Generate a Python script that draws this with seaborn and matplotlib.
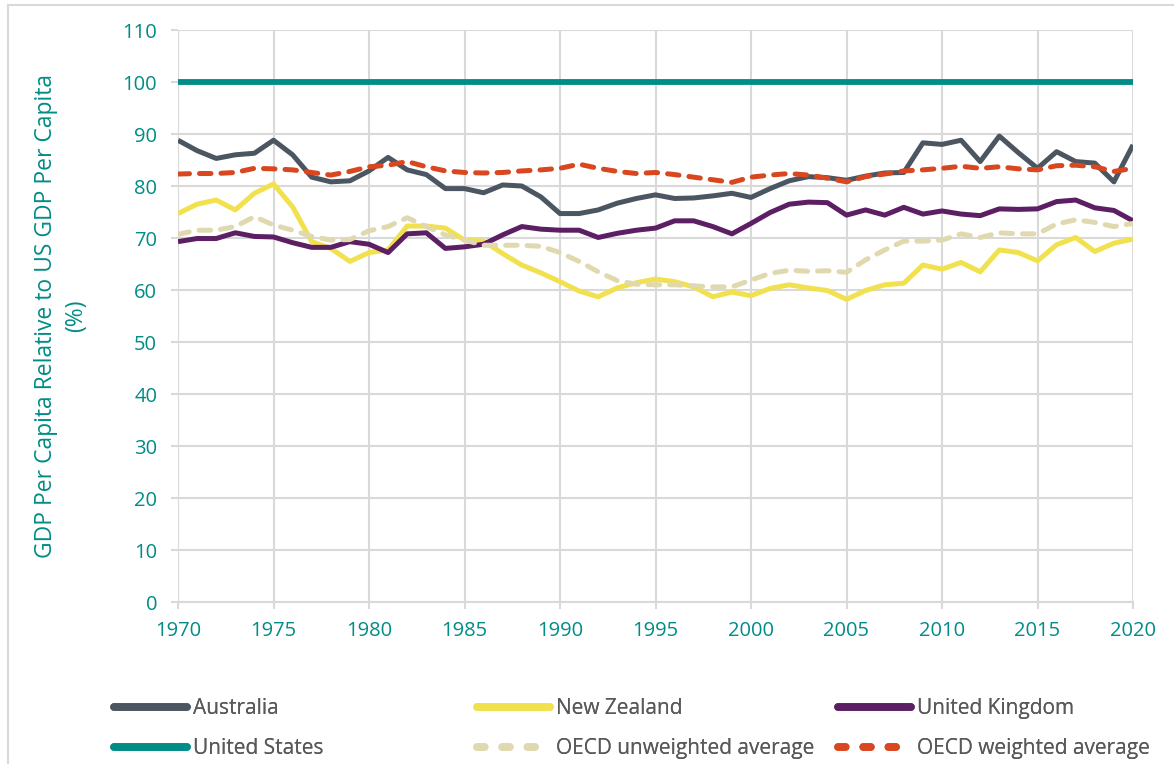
import pandas as pd
import seaborn as sns
import matplotlib.pyplot as plt
from matplotlib.lines import Line2D
from matplotlib.patches import Rectangle

years = list(range(1970, 2021))

australia = [88.8, 86.8, 85.3, 86.0, 86.3, 88.8, 86.0, 81.7, 80.8, 81.0,
             82.9, 85.5, 83.1, 82.2, 79.5, 79.5, 78.7, 80.2, 80.0, 77.9,
             74.7, 74.7, 75.4, 76.7, 77.6, 78.3, 77.6, 77.7, 78.1, 78.6,
             77.8, 79.5, 81.0, 81.8, 81.6, 81.1, 81.9, 82.5, 82.6, 88.3,
             88.0, 88.8, 84.7, 89.6, 86.4, 83.4, 86.6, 84.7, 84.4, 80.8, 87.9]
new_zealand = [74.7, 76.5, 77.3, 75.4, 78.6, 80.4, 76.0, 69.3, 68.0, 65.5,
               67.2, 67.7, 72.3, 72.3, 71.9, 69.6, 69.4, 67.0, 64.8, 63.3,
               61.6, 59.8, 58.7, 60.4, 61.4, 62.1, 61.6, 60.6, 58.7, 59.6,
               58.9, 60.3, 61.0, 60.4, 59.9, 58.2, 59.9, 61.0, 61.3, 64.8,
               64.0, 65.3, 63.5, 67.7, 67.2, 65.6, 68.7, 70.1, 67.4, 69.0, 69.8]
united_kingdom = [69.3, 69.9, 69.9, 71.0, 70.3, 70.2, 69.1, 68.2, 68.2, 69.3,
                  68.8, 67.2, 70.8, 71.0, 68.0, 68.3, 68.8, 70.6, 72.2, 71.7,
                  71.5, 71.5, 70.1, 70.9, 71.5, 71.9, 73.3, 73.3, 72.2, 70.8,
                  72.8, 74.9, 76.5, 76.9, 76.8, 74.4, 75.4, 74.4, 75.9, 74.6,
                  75.2, 74.6, 74.3, 75.6, 75.5, 75.6, 77.0, 77.3, 75.8, 75.3, 73.3]
united_states = [100.0] * len(years)
oecd_unweighted = [70.7, 71.5, 71.5, 72.2, 74.1, 72.5, 71.5, 70.3, 69.6, 69.7,
                   71.4, 72.2, 73.9, 72.2, 70.6, 69.6, 68.6, 68.6, 68.6, 68.4,
                   67.2, 65.5, 63.5, 61.8, 61.1, 61.0, 61.0, 60.8, 60.6, 60.6,
                   61.9, 63.2, 63.8, 63.6, 63.7, 63.4, 65.8, 67.7, 69.4, 69.4,
                   69.6, 70.8, 70.1, 71.0, 70.8, 70.8, 72.7, 73.5, 73.0, 72.2, 72.8]
oecd_weighted = [82.3, 82.4, 82.4, 82.6, 83.4, 83.3, 83.1, 82.6, 82.1, 82.8,
                 83.7, 84.0, 84.7, 83.7, 82.9, 82.6, 82.5, 82.6, 82.9, 83.1,
                 83.4, 84.2, 83.4, 82.8, 82.4, 82.6, 82.2, 81.7, 81.2, 80.7,
                 81.7, 82.1, 82.4, 82.1, 81.5, 80.8, 81.8, 82.3, 82.9, 83.1,
                 83.4, 83.8, 83.4, 83.7, 83.3, 83.1, 83.9, 84.0, 83.7, 82.8, 83.4]

series_names = ["Australia", "New Zealand", "United Kingdom", "United States",
                "OECD unweighted average", "OECD weighted average"]
series_values = [australia, new_zealand, united_kingdom, united_states,
                 oecd_unweighted, oecd_weighted]
colors = ["#4B5661", "#F2E14F", "#5C1F63", "#008C87", "#E0D9AF", "#D8471F"]
dashed = [False, False, False, False, True, True]

df = pd.concat([pd.DataFrame({"Year": years, "Value": v, "Series": n})
                for n, v in zip(series_names, series_values)], ignore_index=True)

teal = "#008C87"
grid_c = "#D9D9D9"

sns.set_theme(style="white")
plt.rcParams["font.family"] = ["Open Sans", "DejaVu Sans"]

fig = plt.figure(figsize=(11.74, 7.64), dpi=100)
ax = fig.add_axes([178 / 1174, 1 - 602 / 764, (1133 - 178) / 1174, (602 - 30) / 764])

sns.lineplot(data=df, x="Year", y="Value", hue="Series", style="Series",
             hue_order=series_names, style_order=series_names,
             palette=dict(zip(series_names, colors)),
             dashes={n: ((2.3, 2.0) if d else "") for n, d in zip(series_names, dashed)},
             lw=3.6, legend=False, ax=ax, zorder=3)
for ln, n in zip(ax.lines, series_names):
    ln.set_dash_capstyle("round")
    ln.set_solid_capstyle("butt")
    if n == "United States":
        ln.set_linewidth(4.2)

ax.set_xlim(1970, 2020)
ax.set_ylim(0, 110)
ax.set_xticks(range(1970, 2021, 5))
ax.set_yticks(range(0, 111, 10))
ax.grid(True, color=grid_c, lw=1.5, zorder=0)
for s in ["top", "right", "left"]:
    ax.spines[s].set_visible(False)
ax.spines["bottom"].set_color(grid_c)
ax.spines["bottom"].set_linewidth(1.5)
ax.tick_params(axis="both", which="both", length=5, width=1.5, color=grid_c,
               labelcolor=teal, labelsize=14.5, left=True, bottom=True)
ax.tick_params(axis="y", pad=10)
ax.tick_params(axis="x", pad=9)
ax.set_xlabel("")
ax.set_ylabel("GDP Per Capita Relative to US GDP Per Capita\n(%)", color=teal,
              fontsize=16.5, linespacing=1.35)
ax.yaxis.set_label_coords(-0.094, 0.5)

# legend in three columns of two rows
columns = [(0, 3), (1, 4), (2, 5)]
xs = [104, 467, 828]
for (a, b), x0 in zip(columns, xs):
    handles = []
    for i in (a, b):
        handles.append(Line2D([], [], color=colors[i], lw=5.5,
                              ls=(0, (1.0, 2.3)) if dashed[i] else "-",
                              dash_capstyle="round", solid_capstyle="round",
                              label=series_names[i]))
    leg = fig.legend(handles=handles, loc="upper left",
                     bbox_to_anchor=(x0 / 1174, 1 - 688 / 764),
                     frameon=False, fontsize=15, handlelength=3.5,
                     handletextpad=0.25, labelspacing=0.9, borderpad=0,
                     labelcolor="#595959")
    fig.add_artist(leg)

fig.add_artist(Rectangle((8 / 1174, -0.1), 2, 1.1 - 5 / 764, transform=fig.transFigure,
                         fill=False, edgecolor=grid_c, lw=1.5))

fig.savefig("out.png", dpi=100)
